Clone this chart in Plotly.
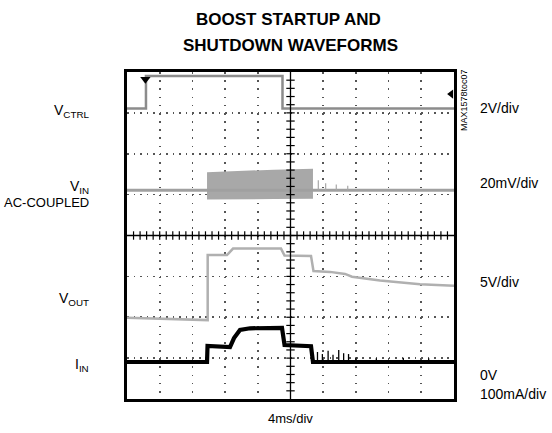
import plotly.graph_objects as go

# ---- data (time in ms, 4 ms/div; levels in screen divisions from bottom, 8 div) ----
vctrl_t = [0, 2.32, 2.32, 19.02, 19.02, 40]
vctrl_v = [7.11, 7.11, 7.90, 7.90, 7.11, 7.11]

vin_t = [0, 9.79, 22.75, 40]
vin_v = [5.11, 5.11, 5.11, 5.11]
vin_band_t = [9.79, 13.0, 18.0, 22.75]
vin_band_top = [5.55, 5.58, 5.61, 5.63]
vin_band_bot = [4.88, 4.88, 4.89, 4.90]
vin_spike_t = [23.4, 24.3, 25.6, 27.0]
vin_spike_v = [5.35, 5.28, 5.25, 5.22]

vout_t = [0, 9.66, 9.87, 9.87, 12.23, 12.97, 18.84, 19.27, 22.51, 22.81, 24.83, 26.67,
          27.52, 30.95, 35.84, 40]
vout_v = [1.99, 1.93, 1.93, 3.52, 3.52, 3.68, 3.68, 3.51, 3.50, 3.13, 3.11, 3.06,
          2.99, 2.90, 2.81, 2.77]

iin_t = [0, 9.79, 9.85, 11.38, 12.6, 13.09, 13.82, 15.05, 18.96, 19.27, 22.51, 22.75, 40]
iin_v = [0.905, 0.905, 1.30, 1.29, 1.27, 1.49, 1.69, 1.73, 1.74, 1.32, 1.29, 0.905, 0.905]
iin_spike_t = [23.3, 23.9, 24.6, 25.2, 25.9, 26.5, 27.1, 28.0, 30.5, 33.8, 36.9]
iin_spike_v = [1.15, 1.10, 1.18, 1.08, 1.20, 1.12, 1.10, 1.02, 1.00, 1.01, 1.00]

XMAX, YMAX = 40, 8
L, R, T, B = 127, 98, 72, 34
W, H = 552, 433
PW, PH = W - L - R, H - T - B

FONT = "Liberation Sans, Arial, sans-serif"

fig = go.Figure()

# VIN band
fig.add_trace(go.Scatter(x=vin_band_t + vin_band_t[::-1], y=vin_band_top + vin_band_bot[::-1],
                         fill="toself", mode="lines", line=dict(width=0, color="#a8a8a8"),
                         fillcolor="#a8a8a8", hoverinfo="skip"))
fig.add_trace(go.Scatter(x=vin_t, y=vin_v, mode="lines", line=dict(color="#a0a0a0", width=3)))
sx, sy = [], []
for t, v in zip(vin_spike_t, vin_spike_v):
    sx += [t, t, None]
    sy += [vin_v[0], v, None]
fig.add_trace(go.Scatter(x=sx, y=sy, mode="lines", line=dict(color="#a8a8a8", width=1.2)))

fig.add_trace(go.Scatter(x=vctrl_t, y=vctrl_v, mode="lines", line=dict(color="#8c8c8c", width=2.5)))
fig.add_trace(go.Scatter(x=vout_t, y=vout_v, mode="lines", line=dict(color="#b0b0b0", width=2.5)))

fig.add_trace(go.Scatter(x=iin_t, y=iin_v, mode="lines", line=dict(color="#000000", width=4.2)))
sx, sy = [], []
for t, v in zip(iin_spike_t, iin_spike_v):
    sx += [t, t, None]
    sy += [iin_v[0], v, None]
fig.add_trace(go.Scatter(x=sx, y=sy, mode="lines", line=dict(color="#000000", width=1.3)))

# centre crosshair with tick marks
fig.add_shape(type="line", x0=XMAX / 2, x1=XMAX / 2, y0=0, y1=YMAX, line=dict(color="black", width=1.3))
fig.add_shape(type="line", x0=0, x1=XMAX, y0=YMAX / 2, y1=YMAX / 2, line=dict(color="black", width=1.3))
htx = [i * XMAX / 50 for i in range(1, 50)]
fig.add_trace(go.Scatter(x=htx, y=[YMAX / 2] * len(htx), mode="markers",
                         marker=dict(symbol="line-ns", size=6, line=dict(color="black", width=1.2))))
vty = [i * YMAX / 40 for i in range(1, 40)]
fig.add_trace(go.Scatter(x=[XMAX / 2] * len(vty), y=vty, mode="markers",
                         marker=dict(symbol="line-ew", size=6, line=dict(color="black", width=1.2))))

# trigger markers
fig.add_trace(go.Scatter(x=[2.25], y=[7.82], mode="markers",
                         marker=dict(symbol="triangle-down", size=9, color="black")))
fig.add_trace(go.Scatter(x=[39.65], y=[7.46], mode="markers",
                         marker=dict(symbol="triangle-left", size=8, color="black")))

fig.update_layout(
    width=W, height=H, margin=dict(l=L, r=R, t=T, b=B),
    paper_bgcolor="white", plot_bgcolor="white", showlegend=False, hovermode=False,
    font=dict(family=FONT, size=14, color="black"),
)
fig.update_xaxes(range=[0, XMAX], dtick=4, showgrid=True, gridcolor="#555555", gridwidth=1.6,
                 griddash="1.6px,6.58px", showticklabels=False, ticks="", zeroline=False,
                 showline=True, mirror=True, linecolor="black", linewidth=3)
fig.update_yaxes(range=[0, YMAX], dtick=1, showgrid=True, gridcolor="#555555", gridwidth=1.6,
                 griddash="1.6px,4.94px", showticklabels=False, ticks="", zeroline=False,
                 showline=True, mirror=True, linecolor="black", linewidth=3)


def px(x):
    return (x - L) / PW


def py(y):
    return (H - B - y) / PH


def ann(text, x, y, xanchor="left", size=14, **kw):
    fig.add_annotation(text=text, x=px(x), y=py(y), xref="paper", yref="paper",
                       xanchor=xanchor, yanchor="middle", showarrow=False,
                       font=dict(family=FONT, size=size, color="black"), **kw)


# left labels
ann("V<sub>CTRL</sub>", 91, 111, "right")
ann("V<sub>IN</sub>", 91, 187, "right")
ann("AC-COUPLED", 91, 202, "right", size=13)
ann("V<sub>OUT</sub>", 91, 299, "right")
ann("I<sub>IN</sub>", 91, 365, "right")
# right labels
ann("2V/div", 478, 108)
ann("20mV/div", 478, 183)
ann("5V/div", 478, 282)
ann("0V", 478, 375)
ann("100mA/div", 478, 394)
# bottom
ann("4ms/div", 290, 418, "center", size=13)
# title
ann("<b>BOOST STARTUP AND</b>", 288, 20, "center", size=17)
ann("<b>SHUTDOWN WAVEFORMS</b>", 290, 45, "center", size=17)
# figure id
ann("MAX1578toc07", 464, 100, "center", size=9, textangle=-90)

fig.write_html("out.html", config={"displayModeBar": False, "staticPlot": True},
               post_script="document.body.style.margin='0';document.body.style.overflow='hidden';")
